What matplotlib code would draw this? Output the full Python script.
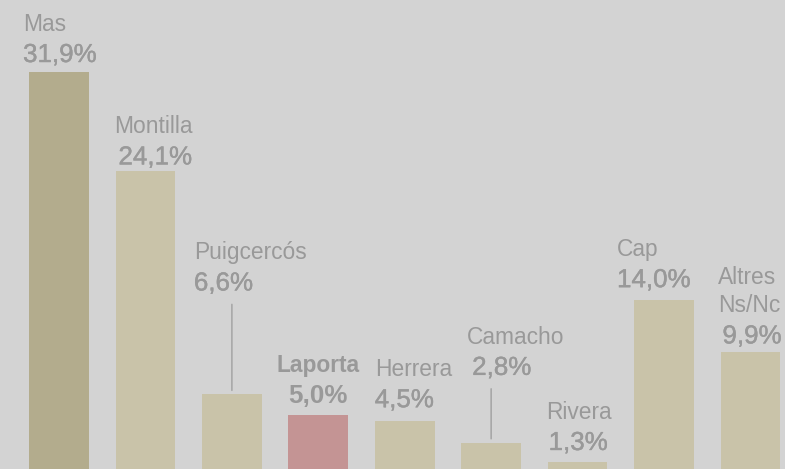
import matplotlib.pyplot as plt
import matplotlib.patheffects as pe

# poll results
names = ["Mas", "Montilla", "Puigcercós", "Laporta", "Herrera",
         "Camacho", "Rivera", "Cap", "Altres\nNs/Nc"]
values = [31.9, 24.1, 6.6, 5.0, 4.5, 2.8, 1.3, 14.0, 9.9]
pct_labels = ["31,9%", "24,1%", "6,6%", "5,0%", "4,5%", "2,8%", "1,3%", "14,0%", "9,9%"]

# styling per bar
bar_colors = ["#b3ac8d", "#c9c3a9", "#c9c3a9", "#c49494", "#c9c3a9",
              "#c9c3a9", "#c9c3a9", "#c9c3a9", "#c9c3a9"]
bold = [False, False, False, True, False, False, False, False, False]
# label offsets in pixels relative to bar centre / top
pct_dy = [10, 7, 104, 12, 14, 68, 12, 13, 9]
pct_dx = [-36, -27, -38, 0, -30, -19, -29, -47, -28]
name_dx = [-36, -31, -38, 0, -30, -24, -31, -47, -32]
leader = [False, False, True, False, False, True, False, False, False]

bg = "#d3d3d3"
txt = "#999999"

fig = plt.figure(figsize=(7.85, 4.69), dpi=100, facecolor=bg)
ax = fig.add_axes([0, 0, 1, 1])
ax.set_facecolor(bg)

x = list(range(len(values)))
ax.bar(x, values, width=0.69, color=bar_colors)
ax.set_xlim(-0.683, 8.40)
ax.set_ylim(0.75, 37.55)
ax.axis("off")

# percentages look a touch heavier than the names
medium = [pe.withStroke(linewidth=0.3, foreground=txt)]

for i, v in enumerate(values):
    ha = "center" if bold[i] else "left"
    w = "bold" if bold[i] else "normal"
    ax.annotate(pct_labels[i], xy=(i, v), xytext=(pct_dx[i], pct_dy[i]),
                textcoords="offset pixels", ha=ha, va="baseline",
                fontsize=18.7, color=txt, fontweight=w,
                family="Liberation Sans",
                path_effects=None if bold[i] else medium)
    ax.annotate(names[i], xy=(i, v), xytext=(name_dx[i], pct_dy[i] + 31),
                textcoords="offset pixels", ha=ha, va="baseline",
                fontsize=16.4, color=txt, fontweight=w,
                family="Liberation Sans", linespacing=1.3,
                multialignment="left")
    if leader[i]:
        ax.annotate("", xy=(i, v), xytext=(0, pct_dy[i] - 14),
                    textcoords="offset pixels",
                    arrowprops=dict(arrowstyle="-", color="#a8a8a8", lw=1.2,
                                    shrinkA=0, shrinkB=3))

fig.savefig("out.png", dpi=100, facecolor=bg)
